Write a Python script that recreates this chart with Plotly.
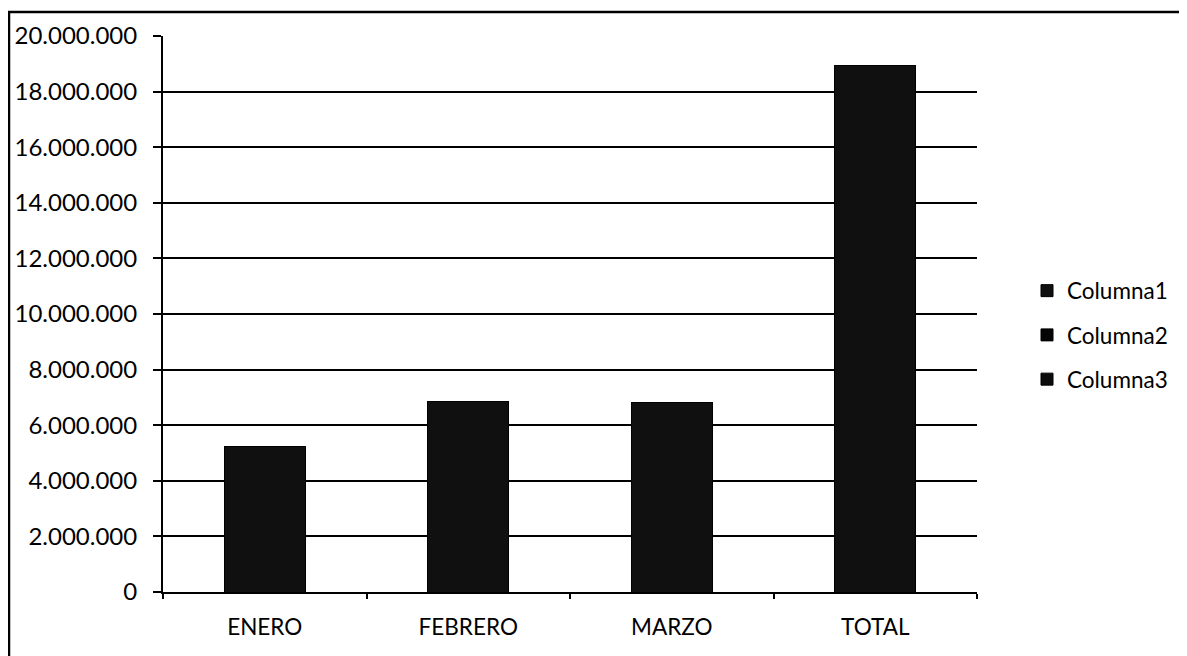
import plotly.graph_objects as go

categories = ["ENERO", "FEBRERO", "MARZO", "TOTAL"]
columna1 = [5250000, 6870000, 6810000, 18930000]
columna2 = [0, 0, 0, 0]
columna3 = [0, 0, 0, 0]
y_ticks = list(range(0, 20000001, 2000000))

# page body has an 8px margin: figure starts at (8, 8) in the window
OFF = 8
W, H = 1187 - OFF, 656 - OFF
PL, PR, PT, PB = 163, 977, 36, 592   # plot area in window pixels
L, T = PL - OFF, PT - OFF
R, B = W - (PR - OFF), H - (PB - OFF)
pw, ph = PR - PL, PB - PT

def px(x):
    return (x - PL) / pw

def py(y):
    return (PB - y) / ph

fig = go.Figure()
series = [("Columna1", columna1, "#101010"),
          ("Columna2", columna2, "#050505"),
          ("Columna3", columna3, "#0c0c0c")]
for i, (name, vals, col) in enumerate(series):
    fig.add_trace(go.Bar(
        x=categories, y=vals, name=name, legendgroup=f"g{i}",
        marker=dict(color=col, line=dict(color="black", width=1)),
    ))

font = "Lato, 'Open Sans', sans-serif"
fig.update_layout(
    width=W, height=H,
    margin=dict(l=L, r=R, t=T, b=B, autoexpand=False),
    paper_bgcolor="white", plot_bgcolor="white",
    barmode="stack", bargap=0.6,
    separators=",.",
    font=dict(family=font, size=22, color="black"),
    legend=dict(x=px(1027), y=py(335), xanchor="left", yanchor="middle",
                tracegroupgap=12, font=dict(size=22.5),
                itemwidth=30),
    showlegend=True,
    xaxis=dict(
        showline=True, linecolor="black", linewidth=2,
        ticks="outside", tickson="boundaries", ticklen=5, tickcolor="black", tickwidth=1.5,
        showgrid=False, ticklabelstandoff=14,
        tickfont=dict(size=22.5),
    ),
    yaxis=dict(
        range=[0, 20000000], tickvals=y_ticks, tickformat=",d",
        showline=True, linecolor="black", linewidth=2,
        ticks="outside", ticklen=8, tickcolor="black", tickwidth=1.5,
        showgrid=True, gridcolor="black", gridwidth=2,
        zeroline=False, ticklabelstandoff=11,
        tickfont=dict(size=24),
    ),
)

fig.add_shape(type="path", xref="paper", yref="paper",
              path=f"M {px(9)},{py(700)} L {px(9)},{py(12)} L {px(1200)},{py(12)}",
              line=dict(color="black", width=2.5))

fig.write_html("out.html")
